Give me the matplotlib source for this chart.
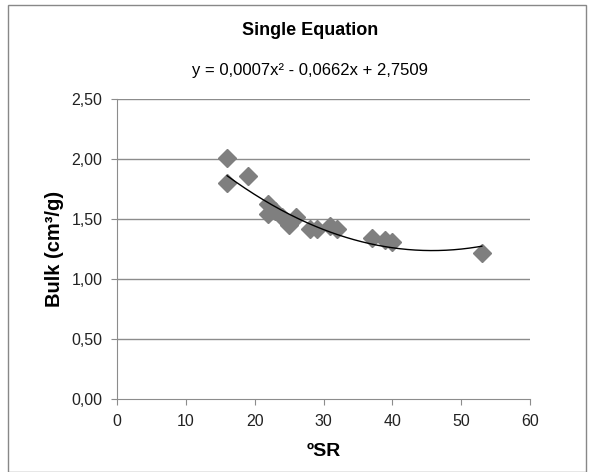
import numpy as np
import matplotlib.pyplot as plt
from matplotlib.patches import Rectangle

plt.rcParams['font.family'] = ['Liberation Sans', 'DejaVu Sans']

# data
sr = [16, 16, 19, 22, 22, 23, 24, 25, 25, 26, 28, 29, 31, 32, 37, 39, 40, 53]
bulk = [2.01, 1.80, 1.86, 1.63, 1.54, 1.57, 1.52, 1.47, 1.45, 1.52,
        1.42, 1.42, 1.44, 1.42, 1.345, 1.33, 1.31, 1.22]

x_ticks = [0, 10, 20, 30, 40, 50, 60]
y_ticks = [0.0, 0.5, 1.0, 1.5, 2.0, 2.5]
y_labels = ['0,00', '0,50', '1,00', '1,50', '2,00', '2,50']

fig = plt.figure(figsize=(5.93, 4.72), dpi=100)
ax = fig.add_axes([0.1973, 0.154, 0.6965, 0.636])

# frame around the whole chart
fig.patches.append(Rectangle((0.014, 0.0), 0.975, 0.99, transform=fig.transFigure,
                             fill=False, edgecolor='#888888', linewidth=1.0))

# grid
for y in y_ticks[1:]:
    ax.axhline(y, color='#8c8c8c', linewidth=1.0, zorder=1)

ax.plot(sr, bulk, linestyle='none', marker='D', markersize=9.5,
        color='#7f7f7f', zorder=3)

# 2nd order trend line
coef = np.polyfit(sr, bulk, 2)
xs = np.linspace(min(sr), max(sr), 200)
ax.plot(xs, np.polyval(coef, xs), color='black', linewidth=1.0, zorder=4)

ax.set_xlim(0, 60)
ax.set_ylim(0, 2.5)
ax.set_xticks(x_ticks)
ax.set_yticks(y_ticks)
ax.set_yticklabels(y_labels)

for s in ['top', 'right']:
    ax.spines[s].set_visible(False)
for s in ['left', 'bottom']:
    ax.spines[s].set_color('#8c8c8c')
ax.tick_params(axis='both', colors='#8c8c8c', labelcolor='#222222',
               labelsize=11.5, length=4.5, direction='out')
ax.tick_params(axis='x', pad=6)
ax.tick_params(axis='y', pad=6)

ax.set_xlabel('ºSR', fontsize=14, fontweight='bold', labelpad=10)
ax.set_ylabel('Bulk (cm³/g)', fontsize=14.5, fontweight='bold', labelpad=5)

fig.text(0.523, 0.935, 'Single Equation', ha='center', va='center',
         fontsize=13, fontweight='bold')
fig.text(0.523, 0.851, 'y = 0,0007x² - 0,0662x + 2,7509', ha='center',
         va='center', fontsize=12)

fig.savefig('out.png', dpi=100)
